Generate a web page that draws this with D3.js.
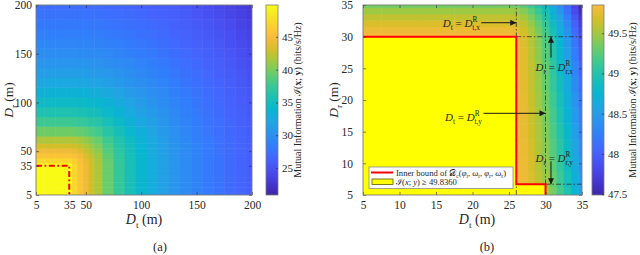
<!DOCTYPE html>
<html><head><meta charset="utf-8">
<script src="https://cdn.jsdelivr.net/npm/d3@7"></script>
<style>
body{margin:0;background:#fff;}
svg{display:block;}
text{font-family:"Liberation Serif","DejaVu Serif",serif;fill:#262626;white-space:pre;}
</style></head><body>
<svg id="c" width="640" height="255"></svg>
<script>
// ---------------- DATA ----------------
// Panel (a): grid of D_t (columns) and D_r (rows) in metres
const aCols=[5,10,15,20,25,30,35,40,45,50,55,60,70,80,90,100,110,120,130,140,150,160,170,180,190,200];
const aRows=[5,10,15,20,25,30,35,40,45,50,55,60,70,80,90,100,110,120,130,140,150,160,170,180,190,200];
const aZ=[
[49.84,49.84,49.84,49.84,49.84,49.84,49.84,47.2,45.7,44.35,42.98,41.69,39.38,37.29,35.59,34.0,32.68,31.5,30.5,29.62,28.9,28.18,27.55,27.01,26.47,26.02],
[49.84,49.84,49.84,49.84,49.84,49.84,49.84,47.2,45.7,44.35,42.98,41.69,39.38,37.29,35.59,34.0,32.68,31.5,30.5,29.62,28.9,28.18,27.55,27.01,26.47,26.02],
[49.84,49.84,49.84,49.84,49.84,49.84,49.84,47.2,45.7,44.35,42.98,41.69,39.38,37.29,35.59,34.0,32.68,31.5,30.5,29.62,28.9,28.18,27.55,27.01,26.47,26.02],
[49.84,49.84,49.84,49.84,49.84,49.84,49.84,47.2,45.7,44.35,42.98,41.69,39.38,37.29,35.59,34.0,32.68,31.5,30.5,29.62,28.9,28.18,27.55,27.01,26.47,26.02],
[49.84,49.84,49.84,49.84,49.84,49.84,49.84,47.2,45.7,44.35,42.98,41.69,39.38,37.29,35.59,34.0,32.68,31.5,30.5,29.62,28.9,28.18,27.55,27.01,26.47,26.02],
[49.84,49.84,49.84,49.84,49.84,49.84,49.84,47.2,45.7,44.35,42.98,41.69,39.38,37.29,35.59,34.0,32.68,31.5,30.5,29.62,28.9,28.18,27.55,27.01,26.47,26.02],
[49.84,49.84,49.84,49.84,49.84,49.84,49.84,47.2,45.7,44.35,42.98,41.69,39.38,37.29,35.59,34.0,32.68,31.5,30.5,29.62,28.9,28.18,27.55,27.01,26.47,26.02],
[47.2,47.2,47.2,47.2,47.2,47.2,47.2,46.6,45.4,44.15,42.81,41.58,39.27,37.23,35.59,34.0,32.68,31.5,30.5,29.62,28.9,28.18,27.55,27.01,26.47,26.02],
[45.7,45.7,45.7,45.7,45.7,45.7,45.7,45.4,44.57,43.51,42.33,41.25,39.05,37.06,35.47,33.89,32.57,31.4,30.45,29.58,28.86,28.18,27.55,27.01,26.47,26.02],
[44.36,44.36,44.36,44.36,44.36,44.36,44.36,44.15,43.51,42.65,41.69,40.7,38.72,36.83,35.25,33.78,32.46,31.35,30.4,29.53,28.81,28.14,27.51,26.97,26.43,25.98],
[43.03,43.03,43.03,43.03,43.03,43.03,43.03,42.87,42.44,41.75,40.92,40.04,38.28,36.49,35.02,33.62,32.35,31.3,30.3,29.49,28.77,28.09,27.46,26.92,26.38,25.93],
[41.8,41.8,41.8,41.8,41.8,41.8,41.8,41.69,41.36,40.81,40.15,39.38,37.73,36.15,34.79,33.4,32.24,31.15,30.2,29.44,28.72,28.0,27.42,26.88,26.38,25.93],
[39.6,39.6,39.6,39.6,39.6,39.6,39.6,39.49,39.27,38.94,38.39,37.84,36.61,35.36,34.06,32.9,31.8,30.85,30.0,29.22,28.54,27.91,27.33,26.79,26.29,25.84],
[37.62,37.62,37.62,37.62,37.62,37.62,37.62,37.51,37.34,37.06,36.72,36.38,35.47,34.4,33.34,32.3,31.35,30.45,29.67,28.99,28.32,27.73,27.19,26.65,26.2,25.71],
[35.98,35.98,35.98,35.98,35.98,35.98,35.98,35.93,35.81,35.64,35.36,35.08,34.28,33.45,32.57,31.65,30.85,30.05,29.35,28.72,28.09,27.51,27.01,26.52,26.07,25.57],
[34.57,34.57,34.57,34.57,34.57,34.57,34.57,34.51,34.45,34.28,34.06,33.84,33.23,32.52,31.75,31.05,30.3,29.62,29.04,28.41,27.82,27.33,26.83,26.34,25.93,25.39],
[33.34,33.34,33.34,33.34,33.34,33.34,33.34,33.34,33.23,33.12,32.96,32.79,32.3,31.7,31.1,30.45,29.8,29.26,28.68,28.09,27.6,27.1,26.61,26.2,25.75,25.21],
[32.24,32.24,32.24,32.24,32.24,32.24,32.24,32.24,32.19,32.08,31.97,31.8,31.4,30.95,30.4,29.9,29.35,28.86,28.32,27.78,27.33,26.88,26.43,26.02,25.57,24.99],
[31.3,31.3,31.3,31.3,31.3,31.3,31.3,31.3,31.25,31.2,31.05,30.95,30.6,30.25,29.8,29.35,28.9,28.41,27.96,27.46,27.06,26.61,26.2,25.8,25.3,24.76],
[30.45,30.45,30.45,30.45,30.45,30.45,30.45,30.45,30.4,30.35,30.25,30.15,29.9,29.58,29.26,28.86,28.45,28.0,27.55,27.19,26.79,26.34,26.02,25.57,25.03,24.49],
[29.71,29.71,29.71,29.71,29.71,29.71,29.71,29.71,29.67,29.62,29.53,29.49,29.26,29.04,28.72,28.36,28.0,27.6,27.24,26.88,26.47,26.11,25.75,25.3,24.76,24.22],
[29.13,29.13,29.13,29.13,29.13,29.13,29.13,29.13,29.08,29.04,28.99,28.9,28.72,28.5,28.18,27.91,27.55,27.24,26.92,26.56,26.2,25.89,25.48,24.94,24.45,23.95],
[28.54,28.54,28.54,28.54,28.54,28.54,28.54,28.54,28.5,28.5,28.41,28.36,28.18,27.96,27.73,27.46,27.19,26.92,26.56,26.29,25.93,25.57,25.12,24.67,24.18,23.68],
[28.05,28.05,28.05,28.05,28.05,28.05,28.05,28.05,28.0,28.0,27.96,27.91,27.73,27.55,27.37,27.15,26.88,26.61,26.29,26.02,25.66,25.3,24.85,24.4,23.86,23.41],
[27.6,27.6,27.6,27.6,27.6,27.6,27.6,27.6,27.55,27.55,27.51,27.46,27.33,27.19,27.01,26.79,26.52,26.29,26.02,25.71,25.35,24.94,24.49,24.04,23.59,23.1],
[27.19,27.19,27.19,27.19,27.19,27.19,27.19,27.19,27.15,27.15,27.1,27.06,26.92,26.79,26.61,26.43,26.2,25.98,25.71,25.39,24.99,24.58,24.18,23.73,23.28,22.78]
];
const aTicks=[5,35,50,100,150,200];
const aCbRange=[20.9,49.85];
const aCbTicks=[25,30,35,40,45];
const aBoundX=[5,35,35];
const aBoundY=[35,35,5];

// Panel (b)
const bCols=[5,10,15,20,25,26,27,28,29,30,31,32,33,34,35];
const bRows=[5,7.5,10,12.5,15,17.5,20,22.5,25,27.5,29,30,31,32,33,34,35];
const bZ=[
[49.85,49.85,49.85,49.85,49.85,49.84,49.80,49.72,49.62,49.50,49.35,49.17,48.97,48.76,48.55],
[49.85,49.85,49.85,49.85,49.85,49.84,49.79,49.71,49.60,49.47,49.31,49.13,48.92,48.70,48.48],
[49.85,49.85,49.85,49.85,49.85,49.83,49.78,49.69,49.57,49.43,49.27,49.08,48.87,48.64,48.42],
[49.85,49.85,49.85,49.85,49.85,49.83,49.77,49.68,49.55,49.41,49.24,49.04,48.82,48.58,48.35],
[49.85,49.85,49.85,49.85,49.85,49.83,49.76,49.66,49.53,49.38,49.20,49.00,48.77,48.52,48.28],
[49.85,49.85,49.85,49.85,49.85,49.82,49.75,49.65,49.52,49.36,49.17,48.96,48.72,48.47,48.22],
[49.85,49.85,49.85,49.85,49.85,49.82,49.75,49.64,49.50,49.33,49.14,48.92,48.68,48.42,48.16],
[49.85,49.85,49.85,49.85,49.85,49.82,49.74,49.62,49.48,49.30,49.10,48.88,48.63,48.36,48.09],
[49.85,49.85,49.85,49.85,49.85,49.81,49.73,49.61,49.46,49.28,49.07,48.84,48.58,48.30,48.02],
[49.85,49.85,49.85,49.85,49.85,49.80,49.72,49.59,49.43,49.24,49.02,48.78,48.51,48.22,47.93],
[49.85,49.85,49.85,49.85,49.85,49.80,49.71,49.58,49.41,49.22,48.99,48.75,48.47,48.18,47.88],
[49.83,49.83,49.83,49.83,49.83,49.79,49.70,49.57,49.40,49.20,48.97,48.72,48.44,48.14,47.84],
[49.78,49.78,49.78,49.78,49.78,49.75,49.66,49.53,49.36,49.16,48.93,48.67,48.39,48.08,47.78],
[49.70,49.70,49.70,49.70,49.70,49.68,49.60,49.47,49.30,49.10,48.87,48.61,48.32,48.01,47.71],
[49.60,49.60,49.60,49.60,49.60,49.59,49.51,49.39,49.22,49.02,48.79,48.53,48.24,47.93,47.63],
[49.48,49.48,49.48,49.48,49.48,49.48,49.40,49.28,49.12,48.93,48.70,48.44,48.15,47.84,47.55],
[49.35,49.35,49.35,49.35,49.35,49.35,49.27,49.15,49.00,48.82,48.60,48.35,48.07,47.77,47.50]
];
const bTicks=[5,10,15,20,25,30,35];
const bCbRange=[47.49,49.85];
const bCbTicks=[47.5,48,48.5,49,49.5];
const bBoundX=[5,26,26,30,30];
const bBoundY=[30,30,6.7,6.7,5];
const bGuideV=[26,30];             // vertical dash-dot guides (D_t values)
const bGuideH=[[30,26],[6.7,30]];  // horizontal guides [D_r, starting D_t]
const bThreshold="49.8360";

// parula colour map anchors
const parulaRGB=[[0.2422,0.1504,0.6603],[0.2706,0.2147,0.8364],[0.2813,0.3006,0.9414],[0.2699,0.3892,0.9906],
[0.1963,0.4847,0.9892],[0.1687,0.5703,0.9359],[0.1248,0.6459,0.8883],[0.0297,0.7082,0.8163],[0.0964,0.7500,0.7120],
[0.2161,0.7843,0.5923],[0.3909,0.8029,0.4354],[0.6174,0.7876,0.2612],[0.8203,0.7498,0.1535],[0.9728,0.7298,0.2394],
[0.9892,0.8136,0.1885],[0.9597,0.9135,0.1423],[0.9769,0.9839,0.0805]];
const parulaPos=[0,4,8,12,16,20,24,28,32,36,40,44,48,52,56,60,63].map(i=>i/63);

// ---------------- DRAW ----------------
const svg=d3.select('#c');
const parula=d3.scaleLinear().domain(parulaPos).range(parulaRGB.map(c=>d3.rgb(c[0]*255,c[1]*255,c[2]*255).toString())).clamp(true);
const colA=v=>parula((v-aCbRange[0])/(aCbRange[1]-aCbRange[0]));
const bTop=0.83;
const colB=v=>parula(bTop*(v-bCbRange[0])/(bCbRange[1]-bCbRange[0]));

const defs=svg.append('defs');
defs.append('marker').attr('id','ah').attr('viewBox','0 0 10 10').attr('refX',10).attr('refY',5)
  .attr('markerWidth',8).attr('markerHeight',6).attr('markerUnits','userSpaceOnUse').attr('orient','auto')
  .append('path').attr('d','M0,0L10,5L0,10z').attr('fill','#1a1a1a');

function edges(c){const e=[c[0]-(c[1]-c[0])/2];for(let i=1;i<c.length;i++)e.push((c[i-1]+c[i])/2);
  e.push(c[c.length-1]+(c[c.length-1]-c[c.length-2])/2);return e;}

function heat(g,cols,rows,Z,x,y,col,id){
  const [x0,x1]=x.range(),[y0,y1]=y.range();
  defs.append('clipPath').attr('id',id).append('rect').attr('x',x0).attr('y',y1).attr('width',x1-x0).attr('height',y0-y1);
  const ex=edges(cols),ey=edges(rows);
  const cells=[];Z.forEach((r,i)=>r.forEach((v,j)=>cells.push({i,j,v})));
  g.append('g').attr('clip-path',`url(#${id})`).selectAll('rect').data(cells).join('rect')
    .attr('x',d=>x(ex[d.j])).attr('width',d=>x(ex[d.j+1])-x(ex[d.j])+0.5)
    .attr('y',d=>y(ey[d.i+1])-0.5).attr('height',d=>y(ey[d.i])-y(ey[d.i+1])+0.5)
    .attr('fill',d=>col(d.v));
}

function mathText(g,x,y,parts,size,anchor){
  const t=g.append('text').attr('x',x).attr('y',y).attr('font-size',size).attr('text-anchor',anchor||'start');
  let off=0;
  parts.forEach(([s,k])=>{
    k=k||[];
    let target=0,fs=size;
    if(k.includes('sub')){target=size*0.3;fs=size*0.66;}
    if(k.includes('sup')){target=-size*0.42;fs=size*0.66;}
    const ts=t.append('tspan').text(s).attr('font-size',fs).attr('dy',target-off);
    if(k.includes('back'))ts.attr('dx',-size*0.45);
    if(k.includes('i'))ts.attr('font-style','italic');
    if(k.includes('b'))ts.attr('font-weight','bold');
    off=target;
  });
  return t;
}
function rotText(g,x,y,parts,size){
  const gg=g.append('g').attr('transform',`translate(${x},${y}) rotate(-90)`);
  return mathText(gg,0,0,parts,size,'middle');
}
function styleAxis(sel,fs){
  sel.select('.domain').remove();
  sel.selectAll('.tick line').attr('stroke','#262626').attr('stroke-width',0.6);
  sel.selectAll('text').attr('font-family','"Liberation Serif",serif').attr('font-size',fs).attr('fill','#262626');
  sel.attr('font-family',null).attr('font-size',null);
}
function axes(g,x,y,ticks,ypad){
  const [x0,x1]=x.range(),[y0,y1]=y.range();
  g.append('g').attr('transform',`translate(0,${y0})`).call(d3.axisBottom(x).tickValues(ticks).tickSizeInner(-3).tickSizeOuter(0).tickPadding(6)).call(s=>styleAxis(s,11.5));
  g.append('g').attr('transform',`translate(0,${y1})`).call(d3.axisTop(x).tickValues(ticks).tickSizeInner(-3).tickSizeOuter(0).tickFormat(()=>'')).call(s=>styleAxis(s,11.5));
  g.append('g').attr('transform',`translate(${x0},0)`).call(d3.axisLeft(y).tickValues(ticks).tickSizeInner(-3).tickSizeOuter(0).tickPadding(ypad)).call(s=>styleAxis(s,11.5));
  g.append('g').attr('transform',`translate(${x1},0)`).call(d3.axisRight(y).tickValues(ticks).tickSizeInner(-3).tickSizeOuter(0).tickFormat(()=>'')).call(s=>styleAxis(s,11.5));
  g.append('rect').attr('x',x0).attr('y',y1).attr('width',x1-x0).attr('height',y0-y1).attr('fill','none').attr('stroke','#7a7a7a').attr('stroke-width',0.9);
}
function colorbar(g,x0,w,scale,col,ticks,id,fmt,tfs){
  const [b,t]=scale.range();
  const gr=defs.append('linearGradient').attr('id',id).attr('x1',0).attr('x2',0).attr('y1',1).attr('y2',0);
  const [lo,hi]=scale.domain();
  d3.range(0,1.0001,1/40).forEach(f=>gr.append('stop').attr('offset',f).attr('stop-color',col(lo+f*(hi-lo))));
  g.append('rect').attr('x',x0).attr('y',t).attr('width',w).attr('height',b-t).attr('fill',`url(#${id})`).attr('stroke','#7a7a7a').attr('stroke-width',0.8);
  const ax=g.append('g').attr('transform',`translate(${x0+w},0)`).call(d3.axisRight(scale).tickValues(ticks).tickSizeInner(-2).tickSizeOuter(0).tickPadding(4).tickFormat(fmt));
  ax.select('.domain').remove();
  ax.selectAll('.tick line').attr('stroke','#262626').attr('stroke-width',0.6);
  ax.selectAll('text').attr('font-family','"Liberation Sans",Arial,sans-serif').attr('font-size',tfs).attr('fill','#262626');
}

const Dt=[["D",['i']],["t",['sub']],[" (m)",[]]];
const Dr=[["D",['i']],["r",['sub']],[" (m)",[]]];
const cbLab=[["Mutual Information ",[]],["ℐ",[]],["(",[]],["x",['b']],["; ",[]],["y",['b']],[") (bits/s/Hz)",[]]];

// ---- Panel (a)
const xA=d3.scaleLinear([5,200],[36,252]), yA=d3.scaleLinear([5,200],[195,5]);
const gA=svg.append('g');
heat(gA,aCols,aRows,aZ,xA,yA,colA,'clipA');
gA.append('path').attr('d',d3.line()(aBoundX.map((v,i)=>[xA(v),yA(aBoundY[i])])))
  .attr('fill','none').attr('stroke','#ff0000').attr('stroke-width',2).attr('stroke-dasharray','6,2.5,1.8,2.5');
axes(gA,xA,yA,aTicks,4);
mathText(gA,144,224,Dt,14,'middle');
rotText(gA,12.5,100,Dr,13.5);
const cA=d3.scaleLinear(aCbRange,[195,5]);
colorbar(gA,266,12,cA,colA,aCbTicks,'gradA',d3.format('d'),11);
rotText(gA,301,100,cbLab,10);
gA.append('text').attr('x',160).attr('y',251).attr('text-anchor','middle').attr('font-size',12.5).text('(a)');

// ---- Panel (b)
const xB=d3.scaleLinear([5,35],[363,582]), yB=d3.scaleLinear([5,35],[195,5]);
const gB=svg.append('g');
heat(gB,bCols,bRows,bZ,xB,yB,colB,'clipB');
const bPoly=bBoundX.map((v,i)=>[xB(v),yB(bBoundY[i])]);
gB.append('path').attr('d',d3.line()([[xB(bBoundX[0]),yB(5)],...bPoly])+'Z').attr('fill','#ffff00').attr('stroke','none');
const dd='5,2,1.5,2';
bGuideV.forEach(v=>gB.append('line').attr('x1',xB(v)).attr('x2',xB(v)).attr('y1',yB(5)).attr('y2',yB(35))
  .attr('stroke','#333').attr('stroke-width',0.8).attr('stroke-dasharray',dd));
bGuideH.forEach(([v,f])=>gB.append('line').attr('x1',xB(f)).attr('x2',xB(35)).attr('y1',yB(v)).attr('y2',yB(v))
  .attr('stroke','#333').attr('stroke-width',0.8).attr('stroke-dasharray',dd));
gB.append('path').attr('d',d3.line()(bPoly)).attr('fill','none').attr('stroke','#ff0000').attr('stroke-width',2);

// annotations (data coords)
const ann=[
 {tx:21.0,ty:32.2,anchor:'end',sub:'t',sup2:'t,x',from:[21.2,32.2],to:[26,32.2]},
 {tx:31.2,ty:25.2,anchor:'middle',sub:'r',sup2:'r,x',from:[30.75,26.7],to:[30.75,30]},
 {tx:21.3,ty:17.3,anchor:'end',sub:'t',sup2:'t,y',from:[21.5,17.9],to:[30,17.9]},
 {tx:31.2,ty:10.9,anchor:'middle',sub:'r',sup2:'r,y',from:[30.75,10.3],to:[30.75,6.7]}
];
ann.forEach(a=>{
  gB.append('line').attr('x1',xB(a.from[0])).attr('y1',yB(a.from[1])).attr('x2',xB(a.to[0])).attr('y2',yB(a.to[1]))
    .attr('stroke','#1a1a1a').attr('stroke-width',1).attr('marker-end','url(#ah)');
  mathText(gB,xB(a.tx),yB(a.ty)+4,[["D",['i']],[a.sub,['sub']],[" = ",[]],["D",['i']],["R",['sup']],[a.sup2,['sub','back']]],11,a.anchor);
});
axes(gB,xB,yB,bTicks,10);
mathText(gB,477,224,Dt,14,'middle');
rotText(gB,338,100,Dr,13.5);
const cB=d3.scaleLinear(bCbRange,[195,5]);
colorbar(gB,592,12,cB,colB,bCbTicks,'gradB',d3.format('~g'),11);
rotText(gB,636,100,cbLab,10);
gB.append('text').attr('x',487).attr('y',251).attr('text-anchor','middle').attr('font-size',12.5).text('(b)');

// legend
const lg=gB.append('g');
lg.append('rect').attr('x',369).attr('y',167).attr('width',144).attr('height',21.5).attr('fill','#fff').attr('stroke','#8a8a8a').attr('stroke-width',0.8);
lg.append('line').attr('x1',371).attr('x2',393).attr('y1',172.5).attr('y2',172.5).attr('stroke','#ff0000').attr('stroke-width',2);
lg.append('rect').attr('x',372).attr('y',179).attr('width',21).attr('height',5.5).attr('fill','#ffff00').attr('stroke','#5a5a00').attr('stroke-width',0.8);
mathText(lg,396,175.8,[["Inner bound of ",[]],["𝒟",[]],["c",['sub']],["(",[]],["φ",['i']],["t",['sub']],[", ",[]],["ω",['i']],["t",['sub']],[", ",[]],["φ",['i']],["r",['sub']],[", ",[]],["ω",['i']],["r",['sub']],[")",[]]],8.6,'start');
mathText(lg,396,185.3,[["ℐ",[]],["(",[]],["x",['i']],["; ",[]],["y",['i']],[") ≥ "+bThreshold,[]]],8.6,'start');
</script>
</body></html>
